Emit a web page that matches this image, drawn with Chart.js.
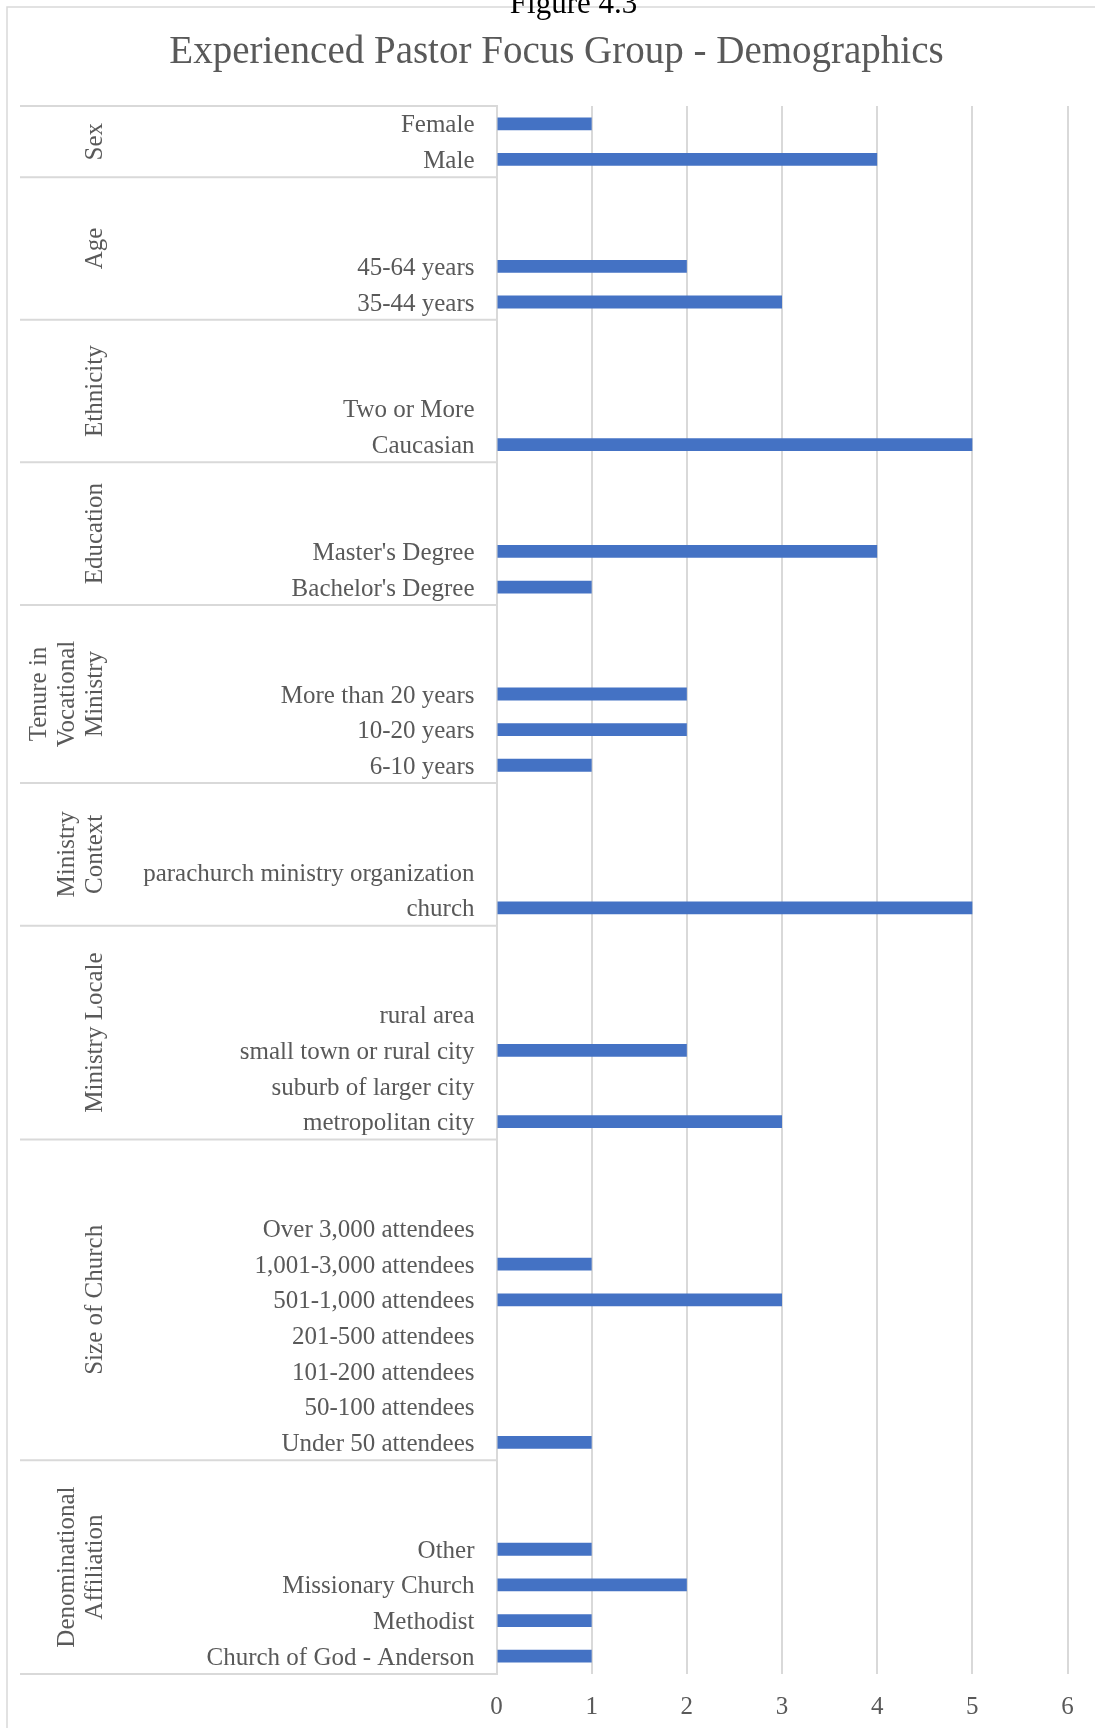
<!DOCTYPE html>
<html>
<head>
<meta charset="utf-8">
<script src="https://cdn.jsdelivr.net/npm/chart.js@4.4.0/dist/chart.umd.min.js"></script>
<style>
html,body{margin:0;padding:0;background:#fff;overflow:hidden}
#wrap{position:relative;width:1095px;height:1728px}
canvas{display:block}
</style>
</head>
<body>
<div id="wrap"><canvas id="c" width="1095" height="1728" style="width:1095px;height:1728px"></canvas></div>
<script>
const figureLabel = "Figure 4.3";
const chartTitle = "Experienced Pastor Focus Group - Demographics";

const categories = [
  "Female", "Male",
  "", "", "45-64 years", "35-44 years",
  "", "", "Two or More", "Caucasian",
  "", "", "Master's Degree", "Bachelor's Degree",
  "", "", "More than 20 years", "10-20 years", "6-10 years",
  "", "", "parachurch ministry organization", "church",
  "", "", "rural area", "small town or rural city", "suburb of larger city", "metropolitan city",
  "", "", "Over 3,000 attendees", "1,001-3,000 attendees", "501-1,000 attendees", "201-500 attendees", "101-200 attendees", "50-100 attendees", "Under 50 attendees",
  "", "", "Other", "Missionary Church", "Methodist", "Church of God - Anderson"
];

const values = [
  1, 4,
  null, null, 2, 3,
  null, null, 0, 5,
  null, null, 4, 1,
  null, null, 2, 2, 1,
  null, null, 0, 5,
  null, null, 0, 2, 0, 3,
  null, null, 0, 1, 3, 0, 0, 0, 1,
  null, null, 1, 2, 1, 1
];

const groupNames = [
  ["Sex"],
  ["Age"],
  ["Ethnicity"],
  ["Education"],
  ["Tenure in", "Vocational", "Ministry"],
  ["Ministry", "Context"],
  ["Ministry Locale"],
  ["Size of Church"],
  ["Denominational", "Affiliation"]
];
const groupSizes = [2, 4, 4, 4, 5, 4, 6, 9, 6];

const xTicks = [0, 1, 2, 3, 4, 5, 6];

const FONT = '"Liberation Serif", "Times New Roman", serif';
const GREY_TEXT = '#595959';
const GRID = '#D9D9D9';

const deco = {
  id: 'deco',
  beforeDraw(chart) {
    const ctx = chart.ctx;
    ctx.save();
    ctx.fillStyle = '#ffffff';
    ctx.fillRect(0, 0, chart.width, chart.height);
    ctx.strokeStyle = GRID;
    ctx.lineWidth = 1.5;
    ctx.beginPath();
    ctx.moveTo(7, chart.height + 5);
    ctx.lineTo(7, 7);
    ctx.lineTo(chart.width + 5, 7);
    ctx.stroke();
    ctx.textAlign = 'center';
    ctx.textBaseline = 'alphabetic';
    ctx.fillStyle = '#000000';
    ctx.font = '31px ' + FONT;
    ctx.fillText(figureLabel, 573.5, 13.3);
    ctx.fillStyle = GREY_TEXT;
    ctx.font = '39px ' + FONT;
    ctx.fillText(chartTitle, 556.5, 62.7);
    ctx.restore();
  },
  afterDraw(chart) {
    const ctx = chart.ctx;
    const ys = chart.scales.y;
    const left = chart.chartArea.left;
    const step = ys.getPixelForValue(1) - ys.getPixelForValue(0);
    ctx.save();
    ctx.strokeStyle = GRID;
    ctx.lineWidth = 2;
    let idx = 0;
    const first = ys.getPixelForValue(0) - step / 2;
    ctx.beginPath();
    ctx.moveTo(20, first); ctx.lineTo(left, first);
    ctx.stroke();
    ctx.fillStyle = GREY_TEXT;
    ctx.font = '25px ' + FONT;
    ctx.textAlign = 'center';
    ctx.textBaseline = 'middle';
    groupSizes.forEach((n, g) => {
      const top = ys.getPixelForValue(idx) - step / 2;
      const bot = ys.getPixelForValue(idx + n - 1) + step / 2;
      ctx.beginPath();
      ctx.moveTo(20, bot); ctx.lineTo(left, bot);
      ctx.stroke();
      const cy = (top + bot) / 2;
      const lines = groupNames[g];
      lines.forEach((t, k) => {
        const x = 95 - 28 * (lines.length - 1 - k);
        ctx.save();
        ctx.translate(x, cy);
        ctx.rotate(-Math.PI / 2);
        ctx.fillText(t, 0, 0);
        ctx.restore();
      });
      idx += n;
    });
    ctx.restore();
  }
};

function build() {
  new Chart(document.getElementById('c'), {
    type: 'bar',
    data: {
      labels: categories,
      datasets: [{
        data: values,
        backgroundColor: '#4472C4',
        borderWidth: 0,
        barPercentage: 0.36,
        categoryPercentage: 1
      }]
    },
    plugins: [deco],
    options: {
      indexAxis: 'y',
      responsive: false,
      animation: false,
      devicePixelRatio: 1,
      layout: { padding: { top: 106, right: 27.5, bottom: 0, left: 0 } },
      plugins: {
        legend: { display: false },
        title: { display: false },
        tooltip: { enabled: false }
      },
      scales: {
        x: {
          type: 'linear',
          position: 'bottom',
          min: 0,
          max: 6,
          afterBuildTicks(s) { s.ticks = xTicks.map(v => ({ value: v })); },
          ticks: { color: GREY_TEXT, font: { family: FONT, size: 25 }, padding: 18 },
          grid: { color: GRID, lineWidth: 2, drawTicks: false },
          border: { display: false },
          afterFit(s) { s.height = 54; }
        },
        y: {
          type: 'category',
          ticks: { autoSkip: false, color: GREY_TEXT, font: { family: FONT, size: 25 }, padding: 22, labelOffset: 2 },
          grid: { display: false, drawTicks: false },
          border: { display: true, color: GRID, width: 2 },
          afterFit(s) { s.width = 496.5; }
        }
      }
    }
  });
}

if (document.fonts && document.fonts.load) {
  Promise.all([
    document.fonts.load('24px "Liberation Serif"')
  ]).then(build, build);
} else {
  build();
}
</script>
</body>
</html>
